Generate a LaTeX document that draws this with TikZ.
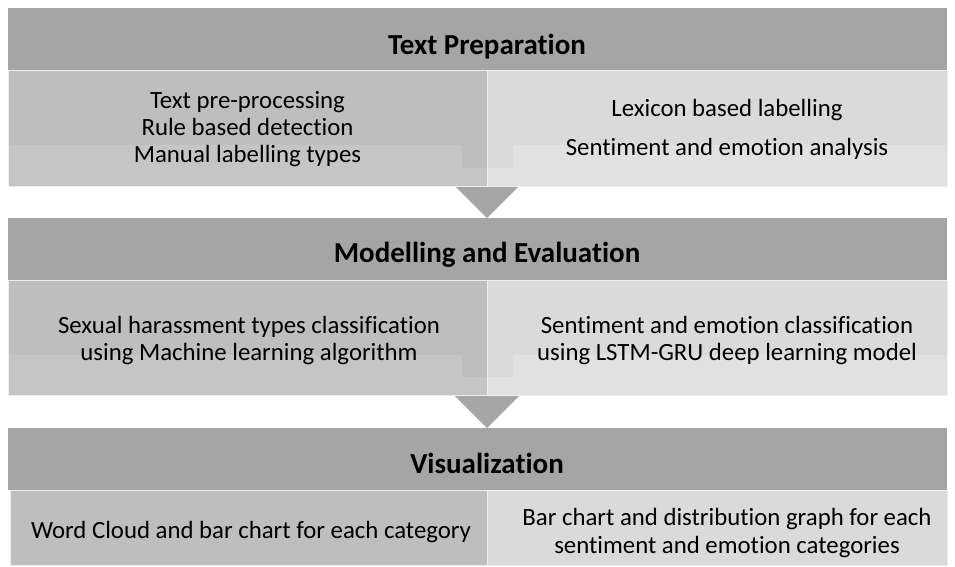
\documentclass[tikz,border=0pt]{standalone}
\usepackage{fontspec}
\setmainfont{Carlito}[RawFeature={-liga}]
\definecolor{hdrgray}{HTML}{A5A5A5}
\definecolor{leftgray}{HTML}{BEBEBE}
\definecolor{leftband}{HTML}{C5C5C5}
\definecolor{rightgray}{HTML}{DADADA}
\definecolor{rightband}{HTML}{E1E1E1}
\definecolor{tipgray}{HTML}{A6A6A6}
\definecolor{rimgray}{HTML}{EEEEEE}

\begin{document}
\begin{tikzpicture}[x=1pt,y=-1pt,
  body/.style={font=\fontsize{24.8}{27}\selectfont, anchor=base, inner sep=0pt, text=black},
  head/.style={font=\fontsize{29}{32}\bfseries\selectfont, anchor=base, inner sep=0pt, text=black},
  rim/.style={draw=rimgray, line width=0.8pt}]
\useasboundingbox (0,0) rectangle (955,566);

% ---------- stage 1: text preparation ----------
\fill[hdrgray] (8,8) rectangle (947,70);
\fill[leftgray] (8,70) rectangle (487,186);
\fill[rightgray] (487,70) rectangle (947,186);
% arrow arms and head
\fill[leftband] (8,145) -- (462,145) -- (462,168) -- (487,168) -- (487,186) -- (8,186) -- cycle;
\fill[rightband] (487,168) -- (513,168) -- (513,145) -- (947,145) -- (947,186) -- (487,186) -- cycle;
\fill[tipgray] (455,186) -- (519,186) -- (487,218) -- cycle;
\draw[rim] (8,70) rectangle (487,186);
\draw[rim] (487,70) rectangle (947,186);

\node[head] (h1) at (487,54) {Text Preparation};
\node[body] (a1) at (247.5,108) {Text pre-processing};
\node[body] (a2) at (247.5,135) {Rule based detection};
\node[body] (a3) at (247.5,162) {Manual labelling types};
\node[body] (b1) at (727,116.5) {Lexicon based labelling};
\node[body] (b2) at (727,155) {Sentiment and emotion analysis};

% ---------- stage 2: modelling and evaluation ----------
\fill[hdrgray] (8,218) rectangle (947,280);
\fill[leftgray] (8,280) rectangle (487,395);
\fill[rightgray] (487,280) rectangle (947,395);
\fill[leftband] (8,355) -- (462,355) -- (462,377) -- (487,377) -- (487,395) -- (8,395) -- cycle;
\fill[rightband] (487,377) -- (513,377) -- (513,355) -- (947,355) -- (947,395) -- (487,395) -- cycle;
\fill[tipgray] (454,395) -- (520,395) -- (487,428) -- cycle;
\draw[rim] (8,280) rectangle (487,395);
\draw[rim] (487,280) rectangle (947,395);

\node[head] (h2) at (487,262) {Modelling and Evaluation};
\node[body] (c1) at (249,333) {Sexual harassment types classification};
\node[body] (c2) at (249,360) {using Machine learning algorithm};
\node[body] (d1) at (727,333) {Sentiment and emotion classification};
\node[body] (d2) at (727,360) {using LSTM-GRU deep learning model};

% ---------- stage 3: visualization ----------
\fill[hdrgray] (8,428) rectangle (947,490);
\fill[leftgray] (10,490) rectangle (487,565);
\fill[rightgray] (487,490) rectangle (947,565);
\draw[rim] (10,490) rectangle (487,565);
\draw[rim] (487,490) rectangle (947,565);

\node[head] (h3) at (487,473) {Visualization};
\node[body] (e1) at (251,538) {Word Cloud and bar chart for each category};
\node[body] (f1) at (727,525) {Bar chart and distribution graph for each};
\node[body] (f2) at (727,553) {sentiment and emotion categories};
\end{tikzpicture}
\end{document}
